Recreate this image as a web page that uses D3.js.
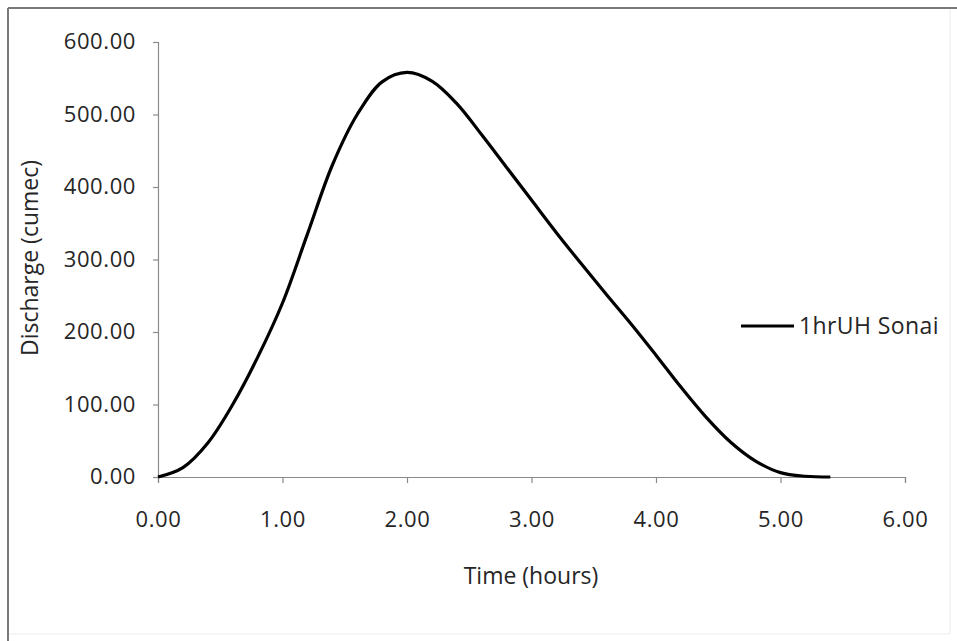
<!DOCTYPE html>
<html>
<head>
<meta charset="utf-8">
<script src="https://cdn.jsdelivr.net/npm/d3@7"></script>
<style>
  body { margin: 0; background: #fff; }
  text { font-family: "Open Sans", sans-serif; fill: #262626; }
</style>
</head>
<body>
<div id="chart"></div>
<script>
var hours = [0.0, 0.2, 0.4, 0.6, 0.8, 1.0, 1.2, 1.4, 1.6, 1.8, 2.0, 2.2, 2.4, 2.6,
  2.8, 3.0, 3.2, 3.4, 3.6, 3.8, 4.0, 4.2, 4.4, 4.6, 4.8, 5.0, 5.2, 5.4];
var discharge = [0, 13, 47, 100, 165, 240, 335, 430, 500, 545, 558, 546, 515, 472,
  427, 382, 337, 294, 252, 211, 168, 124, 83, 48, 22, 6, 1, 0];
var xTicks = [0, 1, 2, 3, 4, 5, 6];
var yTicks = [0, 100, 200, 300, 400, 500, 600];
var seriesName = "1hrUH Sonai";

var width = 957, height = 641;
var svg = d3.select("#chart").append("svg")
  .attr("width", width)
  .attr("height", height);

// outer chart frame
svg.append("line").attr("x1", 8).attr("x2", width).attr("y1", 8).attr("y2", 8)
  .attr("stroke", "#7a7a7a").attr("stroke-width", 2);
svg.append("line").attr("x1", 8).attr("x2", 8).attr("y1", 8).attr("y2", height)
  .attr("stroke", "#7a7a7a").attr("stroke-width", 2);
svg.append("line").attr("x1", 950).attr("x2", 950).attr("y1", 9).attr("y2", 634)
  .attr("stroke", "#ececec").attr("stroke-width", 1);
svg.append("line").attr("x1", 9).attr("x2", 950).attr("y1", 634).attr("y2", 634)
  .attr("stroke", "#ececec").attr("stroke-width", 1);

var x = d3.scaleLinear().domain([0, 6]).range([158, 905]);
var y = d3.scaleLinear().domain([0, 600]).range([477, 42]);

var xAxis = svg.append("g")
  .attr("transform", "translate(0," + y(0) + ")")
  .call(d3.axisBottom(x).tickValues(xTicks).tickFormat(d3.format(".2f")).tickSizeOuter(0).tickSize(6).tickPadding(28));

var yAxis = svg.append("g")
  .attr("transform", "translate(" + x(0) + ",0)")
  .call(d3.axisLeft(y).tickValues(yTicks).tickFormat(d3.format(".2f")).tickSizeOuter(0).tickSize(5).tickPadding(17));

svg.selectAll(".domain, .tick line").attr("stroke", "#8a8a8a").attr("stroke-width", 1.2);
svg.selectAll(".tick text")
  .style("font-family", "'Open Sans', sans-serif")
  .style("font-size", "22px")
  .style("letter-spacing", "0.6px")
  .attr("fill", "#262626");
yAxis.selectAll(".tick text").attr("dy", "0.3em");

// axis titles
svg.append("text")
  .attr("x", 531)
  .attr("y", 584)
  .attr("text-anchor", "middle")
  .style("font-size", "23px")
  .text("Time (hours)");

svg.append("text")
  .attr("transform", "translate(38,258) rotate(-90)")
  .attr("text-anchor", "middle")
  .style("font-size", "23px")
  .text("Discharge (cumec)");

var data = hours.map(function(h, i) { return { t: h, q: discharge[i] }; });

var line = d3.line()
  .x(function(d) { return x(d.t); })
  .y(function(d) { return y(d.q); })
  .curve(d3.curveCatmullRom.alpha(0.5));

svg.append("path")
  .datum(data)
  .attr("fill", "none")
  .attr("stroke", "#000")
  .attr("stroke-width", 3.2)
  .attr("d", line);

// legend
svg.append("line")
  .attr("x1", 741).attr("x2", 794)
  .attr("y1", 326).attr("y2", 326)
  .attr("stroke", "#000").attr("stroke-width", 3.2);
svg.append("text")
  .attr("x", 799)
  .attr("y", 334)
  .style("font-size", "23px")
  .style("letter-spacing", "0.4px")
  .text(seriesName);
</script>
</body>
</html>
